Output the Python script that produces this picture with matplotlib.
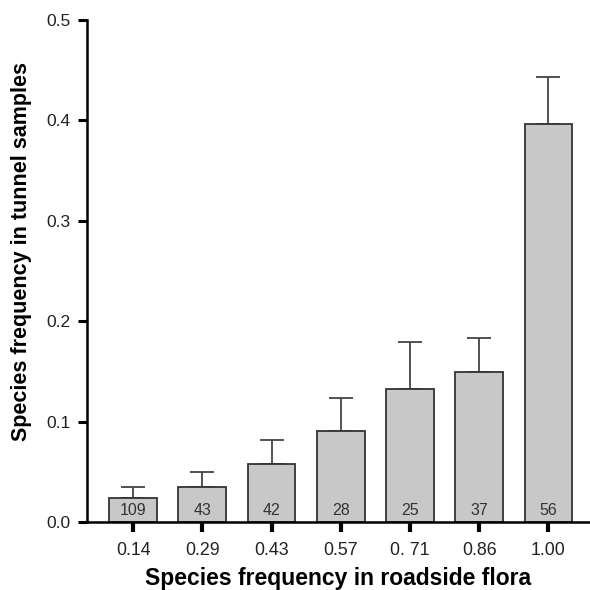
import numpy as np
import matplotlib.pyplot as plt

plt.rcParams['font.family'] = ['Liberation Sans', 'DejaVu Sans']

categories = ['0.14', '0.29', '0.43', '0.57', '0. 71', '0.86', '1.00']
means = [0.024, 0.035, 0.058, 0.091, 0.133, 0.150, 0.396]
upper = [0.035, 0.050, 0.082, 0.124, 0.179, 0.183, 0.443]
counts = [109, 43, 42, 28, 25, 37, 56]

errs = np.array(upper) - np.array(means)
x = np.arange(len(categories))

fig = plt.figure(figsize=(5.9, 5.9), dpi=100)
ax = fig.add_axes([0.147, 0.115, 0.853, 0.851])

ax.bar(x, means, width=0.69, color='#c8c8c8', edgecolor='#333333', linewidth=1.3, zorder=2)
ax.errorbar(x, means, yerr=[np.zeros_like(errs), errs], fmt='none',
            ecolor='#444444', elinewidth=1.3, capsize=8.5, capthick=1.3, zorder=1)

# sample sizes at the foot of each bar
for xi, n in zip(x, counts):
    ax.text(xi, 0.004, str(n), ha='center', va='bottom', fontsize=11.5, color='#333333', zorder=3)

ax.set_xlim(-0.67, 6.6)
ax.set_ylim(0, 0.5)
ax.set_xticks(x)
ax.set_xticklabels(categories, fontsize=12.8, color='#222222')
ax.set_yticks([0.0, 0.1, 0.2, 0.3, 0.4, 0.5])
ax.set_yticklabels(['0.0', '0.1', '0.2', '0.3', '0.4', '0.5'], fontsize=12.5, color='#222222')
ax.tick_params(axis='x', length=7, width=3, pad=7)
ax.tick_params(axis='y', length=6.5, width=2.2, pad=5)

ax.spines['top'].set_visible(False)
ax.spines['right'].set_visible(False)
ax.spines['left'].set_linewidth(1.8)
ax.spines['bottom'].set_linewidth(1.8)

ax.set_xlabel('Species frequency in roadside flora', fontsize=16.5, fontweight='bold')
ax.set_ylabel('Species frequency in tunnel samples', fontsize=15.5, fontweight='bold')
ax.xaxis.set_label_coords(0.5, -56 / 502, transform=ax.transAxes)
ax.yaxis.set_label_coords(-65 / 503, 0.54, transform=ax.transAxes)
ax.xaxis.label.set_va('center')
ax.yaxis.label.set_va('center')

fig.savefig('out.png', dpi=100)
